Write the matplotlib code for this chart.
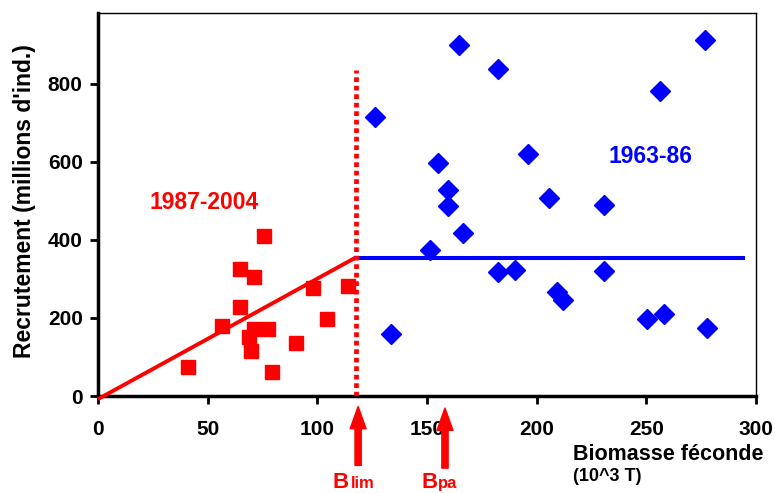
import matplotlib
matplotlib.use("Agg")
import matplotlib.pyplot as plt

plt.rcParams['font.family'] = ['Liberation Sans', 'DejaVu Sans']
plt.rcParams['font.weight'] = 'bold'

# Data: 1987-2004 (red squares)
red_x = [40.9, 56.7, 64.7, 64.7, 71.1, 75.8, 98.2, 114.1, 104.6, 71.1, 77.7, 69.0, 69.6, 90.1, 79.2]
red_y = [75, 179, 229, 326, 304, 410, 276, 283, 198, 172, 172, 150, 115, 137, 61]

# Data: 1963-86 (blue diamonds)
blue_x = [164.6, 182.4, 276.9, 256.3, 126.3, 154.9, 196.1, 159.8, 159.8, 205.7, 230.9,
          166.6, 151.4, 133.6, 182.3, 190.3, 209.2, 212.0, 230.9, 250.2, 258.2, 277.5]
blue_y = [900, 838, 913, 782, 715, 597, 620, 528, 488, 508, 490,
          417, 374, 159, 317, 323, 267, 246, 321, 197, 209, 175]

# Hockey-stick model
b_lim = 117.5
b_pa = 158.0
r_plateau = 355
plateau_end = 294

x_ticks = [0, 50, 100, 150, 200, 250, 300]
y_ticks = [0, 200, 400, 600, 800]

W, H = 775, 493
fig = plt.figure(figsize=(W / 100, H / 100), dpi=100)
ax = fig.add_axes([98 / W, 1 - 396 / H, (756 - 98) / W, (396 - 13) / H])

red = '#FF0000'
blue = '#0000FF'

ax.plot([0, b_lim], [-8, r_plateau], color=red, lw=2.8, solid_capstyle='butt', clip_on=False, zorder=3)
ax.plot([b_lim, plateau_end], [r_plateau, r_plateau], color=blue, lw=2.9, zorder=3)
ax.plot([b_lim, b_lim], [0, 836], color=red, lw=3.4, dashes=(1, 0.8), zorder=4)

ax.plot(red_x, red_y, linestyle='none', marker='s', markersize=10, color=red, mec=red, zorder=5)
ax.plot(blue_x, blue_y, linestyle='none', marker='D', markersize=10, color=blue, mec=blue, zorder=5)

ax.set_xlim(0, 300)
ax.set_ylim(0, 982)
ax.set_xticks(x_ticks)
ax.set_yticks(y_ticks)
ax.tick_params(axis='both', direction='out', length=6, width=2, labelsize=15)
ax.tick_params(axis='x', pad=11)
ax.tick_params(axis='y', pad=5)
for lab in ax.get_xticklabels() + ax.get_yticklabels():
    lab.set_fontweight('bold')

ax.spines['left'].set_linewidth(2.5)
ax.spines['bottom'].set_linewidth(2.5)
ax.spines['top'].set_linewidth(1)
ax.spines['right'].set_linewidth(1)

ax.text(48.3, 497, '1987-2004', color=red, fontsize=16.5, fontweight='bold', ha='center', va='center')
ax.text(251.7, 615, '1963-86', color=blue, fontsize=16.5, fontweight='bold', ha='center', va='center')

# Arrows for Blim and Bpa
arrow_kw = dict(facecolor=red, edgecolor=red, width=4.5, headwidth=11.5, headlength=16, shrink=0)
ax.annotate('', xy=(118.6, -27), xytext=(118.6, -178), xycoords='data',
            arrowprops=arrow_kw, annotation_clip=False)
ax.annotate('', xy=(158.2, -31), xytext=(158.2, -185), xycoords='data',
            arrowprops=arrow_kw, annotation_clip=False)

def px(x, y):
    return (x / W, 1 - y / H)

fig.text(*px(332.7, 488), 'B', color=red, fontsize=16, fontweight='bold', ha='left', va='baseline')
fig.text(*px(350.5, 488), 'lim', color=red, fontsize=12, fontweight='bold', ha='left', va='baseline')
fig.text(*px(421.7, 488), 'B', color=red, fontsize=16, fontweight='bold', ha='left', va='baseline')
fig.text(*px(438, 488), 'pa', color=red, fontsize=12, fontweight='bold', ha='left', va='baseline')

fig.text(*px(572.7, 460), 'Biomasse féconde', fontsize=15.5, fontweight='bold', ha='left', va='baseline')
fig.text(*px(573, 481), '(10^3 T)', fontsize=13, fontweight='bold', ha='left', va='baseline')

fig.text(*px(25, 201), "Recrutement (millions d'ind.)", fontsize=16.5, fontweight='bold',
         rotation=90, ha='center', va='center')

fig.savefig('out.png', dpi=100)
